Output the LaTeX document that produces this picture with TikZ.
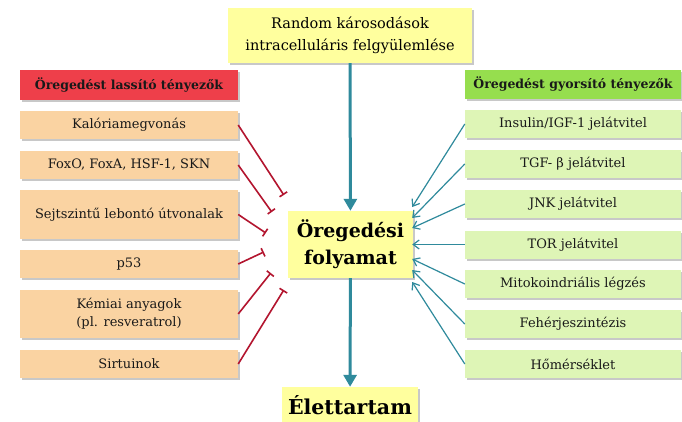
\documentclass[tikz,border=0pt]{standalone}
\usepackage{fontspec}
\setmainfont{DejaVu Serif}
\usetikzlibrary{arrows.meta,positioning,shadows}

\definecolor{slowred}{HTML}{EE3F4A}
\definecolor{slowfill}{HTML}{FAD3A2}
\definecolor{fastgreen}{HTML}{96DE4E}
\definecolor{fastfill}{HTML}{DEF5B6}
\definecolor{procyellow}{HTML}{FFFF9E}
\definecolor{arrteal}{HTML}{2F8A9C}
\definecolor{inhred}{HTML}{B3152F}

\begin{document}
\begin{tikzpicture}[
  x=1pt,y=-1pt,
  font=\fontsize{13}{15}\selectfont,
  box/.style={minimum height=28pt,inner sep=2pt,align=center,text=black!90,
    drop shadow={shadow xshift=2pt,shadow yshift=-2pt,fill=black!30,opacity=.7}},
  slowhead/.style={box,fill=slowred,minimum width=218pt,minimum height=30pt,
    font=\fontsize{12.5}{14}\selectfont\bfseries},
  slowbox/.style={box,fill=slowfill,minimum width=218pt},
  fasthead/.style={box,fill=fastgreen,minimum width=216pt,minimum height=29pt,
    font=\fontsize{12.5}{14}\selectfont\bfseries},
  fastbox/.style={box,fill=fastfill,minimum width=216pt},
  procbox/.style={box,fill=procyellow,text=black},
  flow/.style={arrteal,line width=3pt,-{Triangle[length=12pt,width=13pt]}},
  acc/.style={arrteal,line width=1.2pt,-{Straight Barb[length=6pt,width=9pt]}},
  inh/.style={inhred,line width=1.6pt,-{Bar[width=9pt]}}
]

\path[use as bounding box,fill=white] (0,0) rectangle (682,422);

% -------------------------
% Geometry
% -------------------------
\def\xSlow{129}
\def\xFast{573}
\def\xMid{350}

% -------------------------
% Middle column
% -------------------------
\node[procbox,minimum width=244pt,minimum height=55pt,
  font=\fontsize{14.5}{22}\selectfont] (rand) at (\xMid,35.5)
  {Random károsodások\\intracelluláris felgyülemlése};
\node[procbox,minimum width=125pt,minimum height=67pt,
  font=\fontsize{19}{27}\selectfont\bfseries] (proc) at (350.5,244.5)
  {Öregedési\\folyamat};
\node[procbox,minimum width=136pt,minimum height=36pt,
  font=\fontsize{20.5}{22}\selectfont\bfseries] (life) at (\xMid,405)
  {Élettartam};

% -------------------------
% Left column: slowing factors
% -------------------------
\node[slowhead] (slow-h) at (\xSlow,85) {Öregedést lassító tényezők};
\node[slowbox] (slow-1) at (\xSlow,125) {Kalóriamegvonás};
\node[slowbox] (slow-2) at (\xSlow,165) {FoxO, FoxA, HSF-1, SKN};
\node[slowbox,minimum height=49pt] (slow-3) at (\xSlow,214.5) {Sejtszintű lebontó útvonalak};
\node[slowbox] (slow-4) at (\xSlow,264) {p53};
\node[slowbox,minimum height=48pt,font=\fontsize{13}{18}\selectfont] (slow-5) at (\xSlow,314)
  {Kémiai anyagok\\(pl. resveratrol)};
\node[slowbox] (slow-6) at (\xSlow,364) {Sirtuinok};

% -------------------------
% Right column: accelerating factors
% -------------------------
\node[fasthead] (fast-h) at (\xFast,84.5) {Öregedést gyorsító tényezők};
\node[fastbox] (fast-1) at (\xFast,124) {Insulin/IGF-1 jelátvitel};
\node[fastbox] (fast-2) at (\xFast,164) {TGF- β jelátvitel};
\node[fastbox] (fast-3) at (\xFast,204) {JNK jelátvitel};
\node[fastbox] (fast-4) at (\xFast,244.5) {TOR jelátvitel};
\node[fastbox] (fast-5) at (\xFast,284) {Mitokoindriális légzés};
\node[fastbox] (fast-6) at (\xFast,324) {Fehérjeszintézis};
\node[fastbox] (fast-7) at (\xFast,364) {Hőmérséklet};

% -------------------------
% Connectors
% -------------------------
\draw[flow] (rand) -- (proc);
\draw[flow] (proc) -- (life);

% inhibition (bar ends near left side of process)
\foreach \u/\dx/\dy in {slow-1/-4/-49.5,slow-2/-16/-32.5,slow-3/-22/-11.5,
                        slow-4/-24/7.5,slow-5/-17/28.5,slow-6/-4/45.5} {
  \draw[inh] (\u.east) -- ([shift={(\dx,\dy)}]proc.west);
}

% acceleration (arrows into right side of process)
\foreach \u/\dy in {fast-1/-37.5,fast-2/-26.5,fast-3/-16.5,fast-4/0,
                    fast-5/14.5,fast-6/25.5,fast-7/37.5} {
  \draw[acc] (\u.west) -- ([shift={(-1,\dy)}]proc.east);
}

\end{tikzpicture}
\end{document}
